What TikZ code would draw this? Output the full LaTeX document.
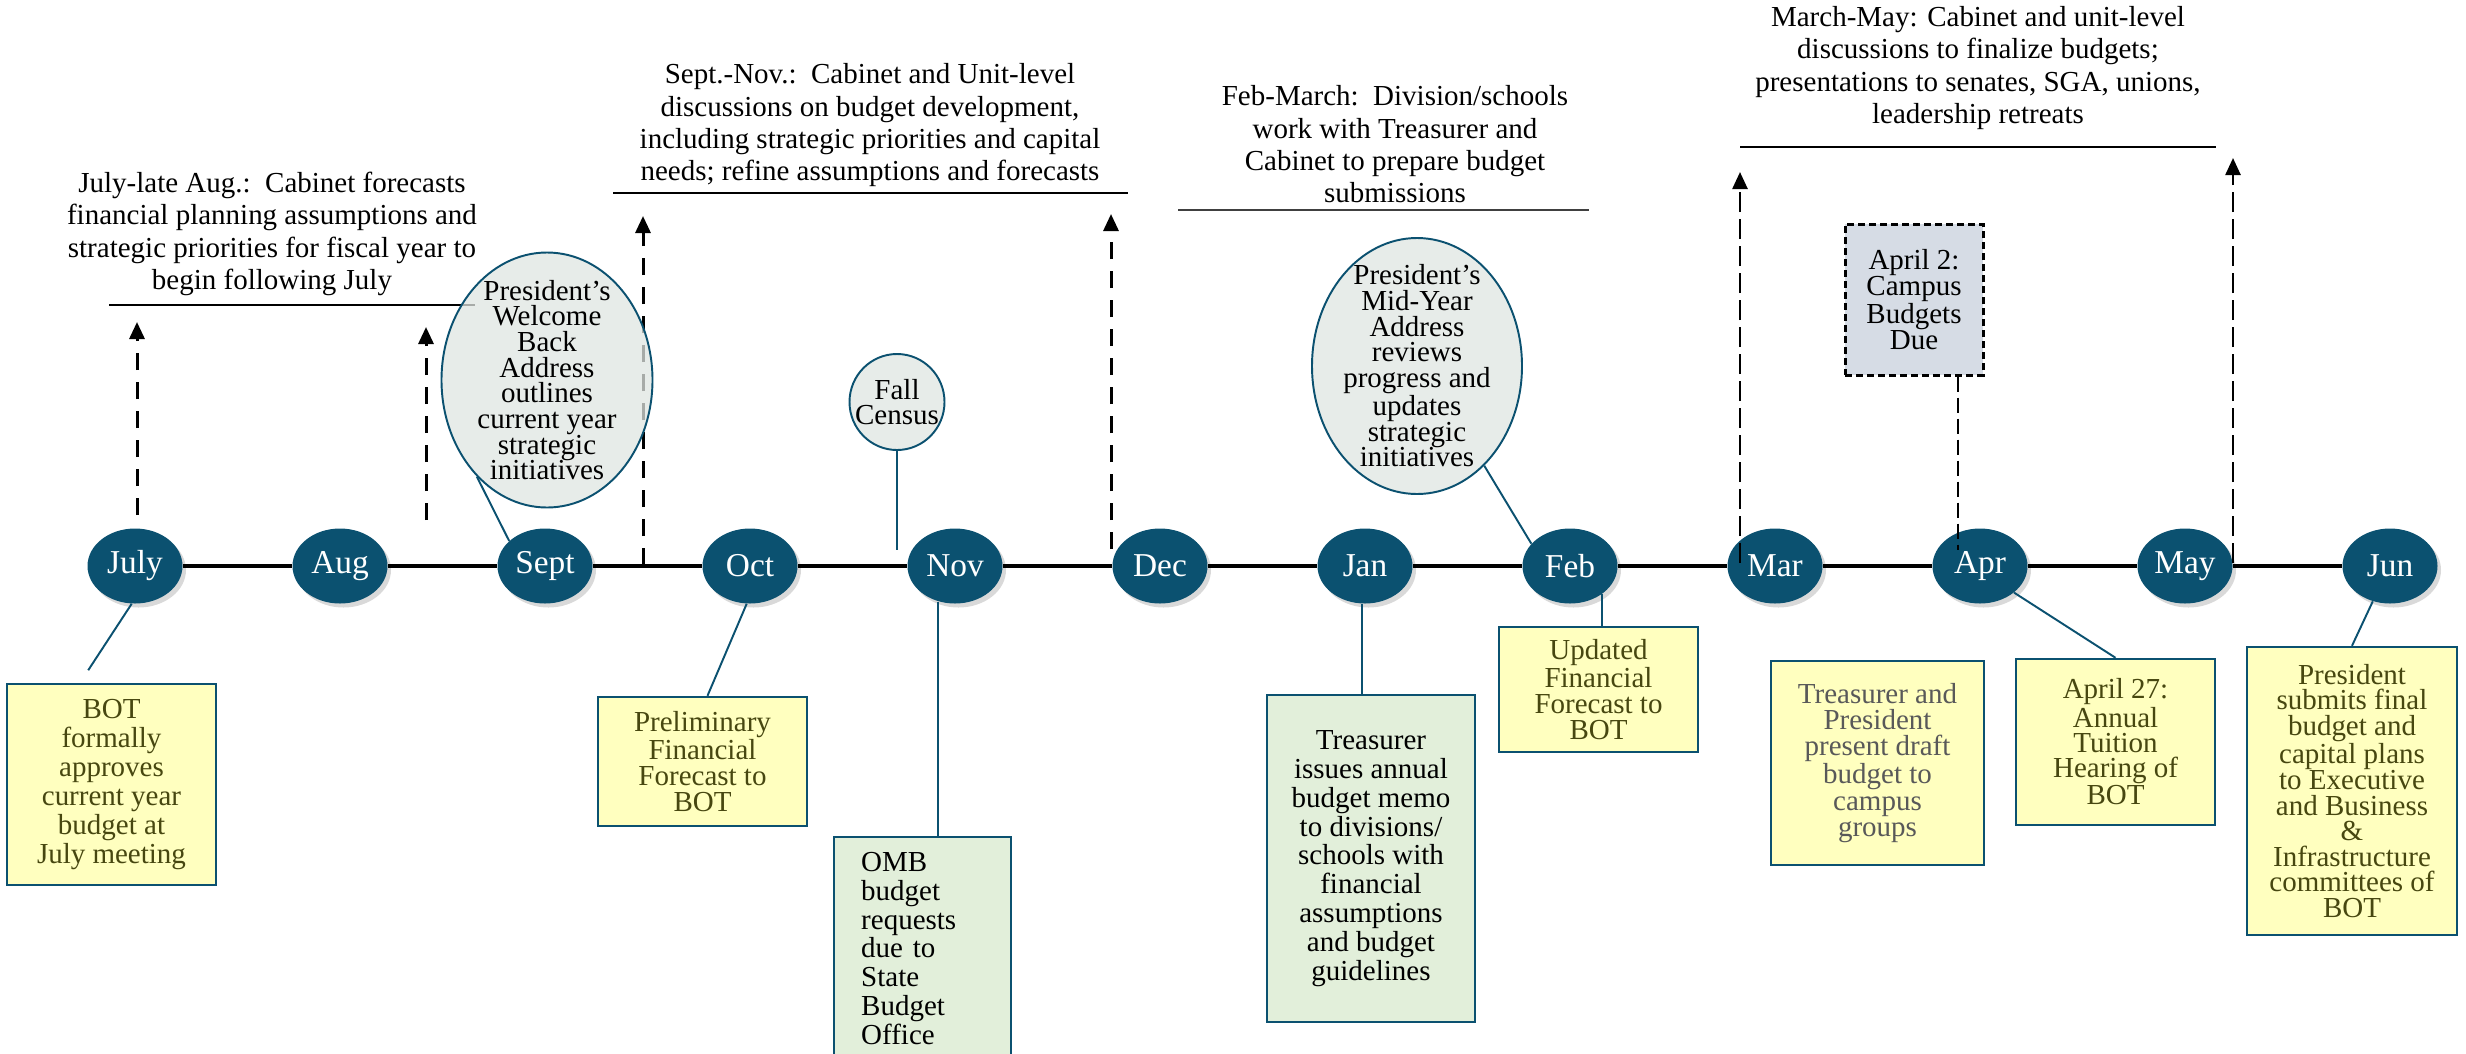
\documentclass[tikz,border=0pt]{standalone}
\usepackage{fontspec}
\setmainfont{Liberation Serif}
\usetikzlibrary{shapes.geometric,shadows,arrows.meta}
\definecolor{deepteal}{HTML}{0B5170}
\definecolor{pale}{HTML}{FFFFBF}
\definecolor{bottxt}{HTML}{474710}
\definecolor{mint}{HTML}{E2EFDA}
\definecolor{haze}{HTML}{DFE5E1}
\definecolor{slate}{HTML}{D6DCE5}
\definecolor{ash}{HTML}{595959}
\tikzset{
  mon/.style={ellipse,fill=deepteal,text=white,minimum width=1.9cm,minimum height=1.5cm,inner sep=0pt,
    font=\fontsize{19}{19}\selectfont,drop shadow={shadow xshift=0.07cm,shadow yshift=-0.08cm,opacity=0.3}},
  tline/.style={line width=0.09cm},
  note/.style={align=center,inner sep=0pt,font=\fontsize{16.5}{18.4}\selectfont},
  rulel/.style={line width=0.03cm},
  uparr/.style={-{Triangle[length=0.34cm,width=0.3cm]},line width=0.06cm,dash pattern=on 0.34cm off 0.24cm},
  bubble/.style={ellipse,draw=deepteal,line width=1.1pt,fill=haze,fill opacity=0.75,inner sep=0pt},
  bubtxt/.style={align=center,inner sep=0pt,font=\fontsize{16.5}{14.6}\selectfont},
  evbox/.style={draw=deepteal,line width=1.4pt,fill=pale,text=bottxt,align=center,inner sep=0pt,font=\fontsize{16.5}{#1}\selectfont},
  evbox/.default=14.6,
  grbox/.style={evbox=#1,fill=mint,text=black},
  grbox/.default=16.4,
  link/.style={deepteal,line width=1.1pt},
}
\begin{document}
\begin{tikzpicture}
\path[use as bounding box] (0,0) rectangle (49.32,-21.06);
\clip (0,0) rectangle (49.32,-21.06);

\node[note] (n1) at (5.44,-4.68) {July-late Aug.:\ \ Cabinet forecasts\\financial planning assumptions and\\strategic priorities for fiscal year to\\begin following July};
\node[note] (n2) at (17.40,-2.51) {Sept.-Nov.:\ \ Cabinet and Unit-level\\discussions on budget development,\\including strategic priorities and capital\\needs; refine assumptions and forecasts};
\node[note] (n3) at (27.90,-2.89) {Feb-March:\ \ Division/schools\\work with Treasurer and\\Cabinet to prepare budget\\submissions};
\node[note] (n4) at (39.56,-1.36) {March-May: Cabinet and unit-level\\discussions to finalize budgets;\\presentations to senates, SGA, unions,\\leadership retreats};
\draw[rulel] (2.18,-6.10) -- (9.50,-6.10);
\draw[rulel] (12.26,-3.86) -- (22.56,-3.86);
\draw[rulel,black!75] (23.56,-4.20) -- (31.78,-4.20);
\draw[rulel] (34.80,-2.94) -- (44.32,-2.94);

\node[mon] (jul) at (2.70,-11.32) {July};
\node[mon] (aug) at (6.80,-11.32) {Aug};
\node[mon] (sep) at (10.90,-11.32) {Sept};
\node[mon] (oct) at (15.00,-11.32) {Oct};
\node[mon] (nov) at (19.10,-11.32) {Nov};
\node[mon] (dec) at (23.20,-11.32) {Dec};
\node[mon] (jan) at (27.30,-11.32) {Jan};
\node[mon] (feb) at (31.40,-11.32) {Feb};
\node[mon] (mar) at (35.50,-11.32) {Mar};
\node[mon] (apr) at (39.60,-11.32) {Apr};
\node[mon] (may) at (43.70,-11.32) {May};
\node[mon] (jun) at (47.80,-11.32) {Jun};
\draw[tline] (jul) -- (aug) -- (sep) -- (oct) -- (nov) -- (dec) -- (jan) -- (feb) -- (mar) -- (apr) -- (may) -- (jun);

\foreach \x/\ya/\yb in {2.74/-10.30/-6.44,8.52/-10.40/-6.54,12.86/-11.30/-4.32,22.22/-10.98/-4.28}
  \draw[uparr] (\x,\ya) -- (\x,\yb);
\foreach \x/\ya/\yb in {34.80/-11.26/-3.44,44.66/-11.26/-3.16}
  \draw[uparr,line width=0.05cm,dash pattern=on 0.4cm off 0.14cm] (\x,\ya) -- (\x,\yb);

\node[bubble,minimum width=4.22cm,minimum height=5.10cm] (welc) at (10.94,-7.60) {};
\node[bubtxt] (welct) at (welc) {President’s\\Welcome\\Back\\Address\\outlines\\current year\\strategic\\initiatives};
\node[bubble,minimum width=1.90cm,minimum height=1.92cm] (cen) at (17.94,-8.04) {};
\node[bubtxt] (cent) at (cen) {Fall\\Census};
\node[bubble,minimum width=4.20cm,minimum height=5.12cm] (mid) at (28.34,-7.32) {};
\node[bubtxt] (midt) at (mid) {President’s\\Mid-Year\\Address\\reviews\\progress and\\updates\\strategic\\initiatives};
\node[draw,dash pattern=on 0.14cm off 0.08cm,line width=0.06cm,fill=slate,minimum width=2.76cm,minimum height=3.02cm,bubtxt] (due) at (38.28,-5.99) {April 2:\\Campus\\Budgets\\Due};

\node[evbox=16.4,minimum width=4.18cm,minimum height=4.02cm] (bot) at (2.23,-15.69) {BOT\\formally\\approves\\current year\\budget at\\July meeting};
\node[evbox,minimum width=4.18cm,minimum height=2.58cm] (pre) at (14.05,-15.23) {Preliminary\\Financial\\Forecast to\\BOT};
\node[grbox,anchor=north west,text width=2.46cm,align=left,inner xsep=0.54cm,inner ysep=0.3cm] (omb) at (16.66,-16.72) {OMB\\budget\\requests\\due to\\State\\Budget\\Office};
\node[grbox,minimum width=4.16cm,minimum height=6.54cm] (memo) at (27.42,-17.17) {Treasurer\\issues annual\\budget memo\\to divisions/\\schools with\\financial\\assumptions\\and budget\\guidelines};
\node[evbox,minimum width=3.98cm,minimum height=2.50cm] (upd) at (31.97,-13.79) {Updated\\Financial\\Forecast to\\BOT};
\node[evbox=14.9,text=ash,minimum width=4.26cm,minimum height=4.08cm] (dft) at (37.55,-15.26) {Treasurer and\\President\\present draft\\budget to\\campus\\groups};
\node[evbox=14.4,minimum width=3.98cm,minimum height=3.32cm] (tui) at (42.31,-14.84) {April 27:\\Annual\\Tuition\\Hearing of\\BOT};
\node[evbox,minimum width=4.20cm,minimum height=5.76cm] (fin) at (47.04,-15.82) {President\\submits final\\budget and\\capital plans\\to Executive\\and Business\\\&\\Infrastructure\\committees of\\BOT};

\draw[link,shorten >=0.3cm] (jul.-95) -- ([xshift=-0.63cm]bot.north);
\draw[link] (oct.-95) -- ([xshift=0.1cm]pre.north);
\draw[link] (nov.-115) -- (nov.-115 |- omb.north);
\draw[link] (jan.-95) -- (jan.-95 |- memo.north);
\draw[link] (feb.-42) -- (feb.-42 |- upd.north);
\draw[link] (apr.-38) -- (tui.north);
\draw[link] (jun.-116) -- (fin.north);
\draw[link] (welc.234) -- (sep.145);
\draw[link] (mid.-56) -- (feb.150);
\draw[link] (cen.south) -- (cen.south |- nov.160);
\coordinate (dueft) at ([xshift=0.88cm]due.south);
\draw[line width=0.03cm,dash pattern=on 0.3cm off 0.12cm] (dueft) -- (dueft |- apr.160);
\end{tikzpicture}
\end{document}
